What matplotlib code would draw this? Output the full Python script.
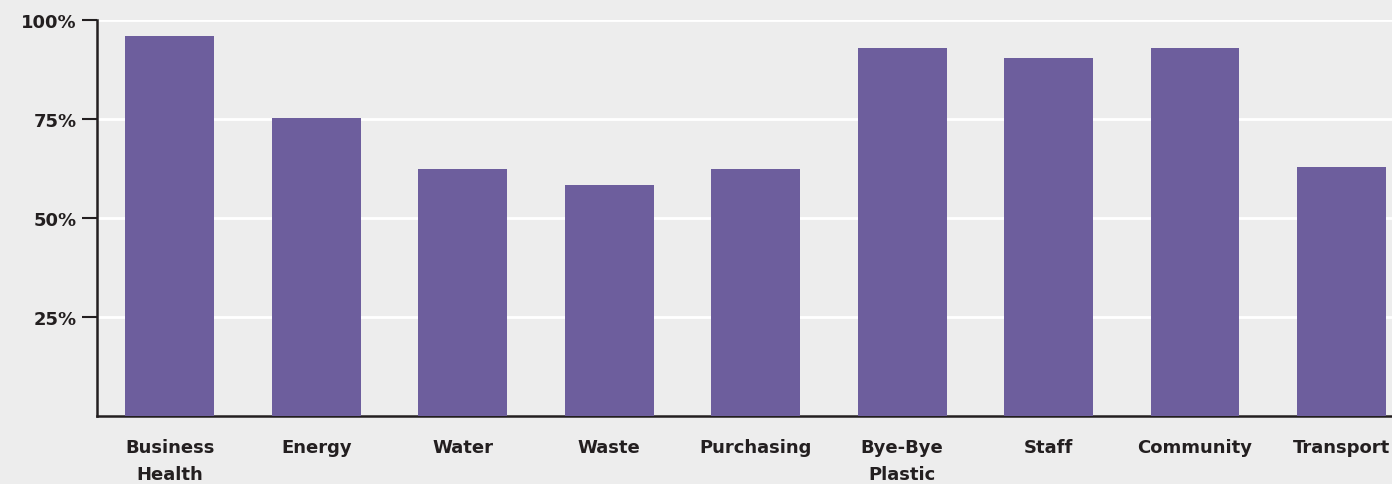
import matplotlib
matplotlib.use("Agg")
import matplotlib.pyplot as plt
import numpy as np

categories = ["Business\nHealth", "Energy", "Water", "Waste", "Purchasing",
              "Bye-Bye\nPlastic", "Staff", "Community", "Transport"]
values = [96.0, 75.3, 62.4, 58.3, 62.4, 92.9, 90.4, 92.9, 62.9]
yticks = [25, 50, 75, 100]
ytick_labels = ["25%", "50%", "75%", "100%"]

BG = "#ededed"
BAR = "#6d5e9d"
DARK = "#231f20"

plt.rcParams['font.family'] = ['DejaVu Sans']

fig = plt.figure(figsize=(13.92, 4.85), dpi=100, facecolor=BG)
ax = fig.add_axes([96.5/1392, 1 - 417/485, 1 - 96.5/1392, (417 - 21)/485])
ax.set_facecolor(BG)

x = np.arange(len(categories))
ax.bar(x, values, width=0.607, color=BAR, zorder=3)

ax.set_xlim(-0.5, (1392 - 169.5)/146.5)
ax.set_ylim(0, 100)
ax.set_yticks(yticks)
ax.set_yticklabels(ytick_labels, fontsize=13, fontweight='bold', color=DARK)
ax.set_xticks(x)
ax.set_xticklabels(categories, fontsize=13, fontweight='bold', color=DARK,
                   linespacing=1.65, va='top')
ax.tick_params(axis='x', length=0, pad=16)
ax.tick_params(axis='y', length=11, width=1.5, color=DARK, pad=3)

ax.grid(axis='y', color='white', linewidth=2, zorder=0)
for s in ['top', 'right']:
    ax.spines[s].set_visible(False)
for s in ['left', 'bottom']:
    ax.spines[s].set_color(DARK)
    ax.spines[s].set_linewidth(1.8)

fig.savefig("out.png", dpi=100, facecolor=BG)
